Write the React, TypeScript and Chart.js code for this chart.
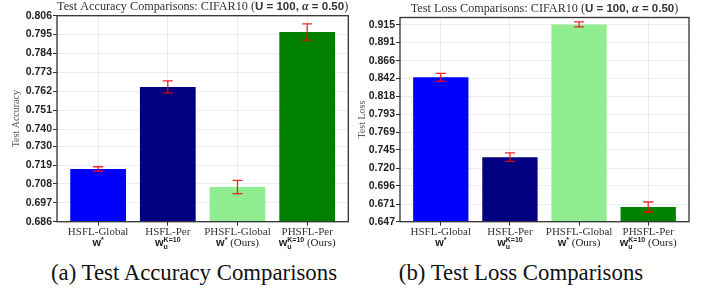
import React, { useEffect, useRef } from "react";
import { Chart, registerables } from "chart.js";

Chart.register(...registerables);

const categories = ["HSFL-Global", "HSFL-Per", "PHSFL-Global", "PHSFL-Per"];
const barColors = ["#0000ff", "#000080", "#90ee90", "#008000"];

const accValues = [0.7167, 0.7645, 0.7062, 0.7965];
const accErrors = [0.0013, 0.0035, 0.0039, 0.0047];
const accTicks = ["0.686", "0.697", "0.708", "0.719", "0.730", "0.740", "0.751", "0.762", "0.773", "0.784", "0.795", "0.806"];

const lossValues = [0.8436, 0.7349, 0.9156, 0.667];
const lossErrors = [0.0054, 0.0059, 0.0034, 0.0068];
const lossTicks = ["0.647", "0.671", "0.696", "0.720", "0.745", "0.769", "0.793", "0.818", "0.842", "0.866", "0.891", "0.915"];

// math notation line under each category: base, superscript, subscript, suffix
const notationBase = ["w", "w", "w", "w"];
const notationSup = ["*", "K=10", "*", "K=10"];
const notationSub = ["", "u", "", "u"];
const notationSuffix = ["", "", " (Ours)", " (Ours)"];

const SERIF = "'Liberation Serif', 'Times New Roman', serif";
const SANS = "'Liberation Sans', Arial, sans-serif";

type Part = { text: string; font: string; dy?: number; noAdvance?: boolean };

function drawParts(ctx: CanvasRenderingContext2D, parts: Part[], cx: number, cy: number, color: string) {
  let total = 0;
  parts.forEach((p) => {
    ctx.font = p.font;
    if (!p.noAdvance) total += ctx.measureText(p.text).width;
  });
  let x = cx - total / 2;
  ctx.save();
  ctx.fillStyle = color;
  ctx.textBaseline = "middle";
  ctx.textAlign = "left";
  parts.forEach((p) => {
    ctx.font = p.font;
    ctx.fillText(p.text, x, cy + (p.dy || 0));
    if (!p.noAdvance) x += ctx.measureText(p.text).width;
  });
  ctx.restore();
}

function makeChart(
  canvas: HTMLCanvasElement,
  cfg: {
    values: number[];
    errors: number[];
    ticks: string[];
    yMin: number;
    yMax: number;
    yLabel: string;
    titleMain: string;
    axisWidth: number;
    padTop: number;
    padRight: number;
    xAxisHeight: number;
    yTitlePad: number;
  }
) {
  const framePlugin = {
    id: "frame",
    afterDraw(chart: any) {
      const { ctx, chartArea: a } = chart;
      ctx.save();
      ctx.strokeStyle = "#333";
      ctx.lineWidth = 1.3;
      ctx.strokeRect(a.left, a.top, a.right - a.left, a.bottom - a.top);
      ctx.restore();
    },
  };
  const errorPlugin = {
    id: "errbars",
    afterDatasetsDraw(chart: any) {
      const { ctx } = chart;
      const xs = chart.scales.x;
      const ys = chart.scales.y;
      ctx.save();
      ctx.strokeStyle = "rgba(255,0,0,0.85)";
      ctx.lineWidth = 1.3;
      cfg.values.forEach((v, i) => {
        const x = xs.getPixelForValue(i);
        const y1 = ys.getPixelForValue(v + cfg.errors[i]);
        const y2 = ys.getPixelForValue(v - cfg.errors[i]);
        ctx.beginPath();
        ctx.moveTo(x, y1);
        ctx.lineTo(x, y2);
        ctx.moveTo(x - 5, y1);
        ctx.lineTo(x + 5, y1);
        ctx.moveTo(x - 5, y2);
        ctx.lineTo(x + 5, y2);
        ctx.stroke();
      });
      ctx.restore();
    },
  };
  const textPlugin = {
    id: "texts",
    afterDraw(chart: any) {
      const { ctx, chartArea: a } = chart;
      const cx = (a.left + a.right) / 2;
      drawParts(
        ctx,
        [
          { text: cfg.titleMain + " (", font: `12.2px ${SERIF}` },
          { text: "U = 100, ", font: `bold 11.5px ${SANS}` },
          { text: "α", font: `italic bold 12px ${SERIF}` },
          { text: " = 0.50", font: `bold 11.5px ${SANS}` },
          { text: ")", font: `12.2px ${SERIF}` },
        ],
        cx,
        a.top - 8.5,
        "#333"
      );
      const xs = chart.scales.x;
      categories.forEach((_, i) => {
        const x = xs.getPixelForValue(i);
        const parts: Part[] = [{ text: notationBase[i], font: `bold 11px ${SANS}` }];
        ctx.font = `bold 7px ${SANS}`;
        const supW = Math.max(ctx.measureText(notationSup[i]).width, ctx.measureText(notationSub[i]).width);
        const supOnlyW = ctx.measureText(notationSup[i]).width;
        if (notationSub[i]) {
          parts.push({ text: notationSub[i], font: `bold 7px ${SANS}`, dy: 3.5, noAdvance: true });
        }
        parts.push({ text: notationSup[i], font: `bold 7px ${SANS}`, dy: -3.5 });
        if (supW - supOnlyW > 0) parts.push({ text: " ", font: `${supW - supOnlyW}px ${SANS}` });
        if (notationSuffix[i]) parts.push({ text: notationSuffix[i], font: `11px ${SERIF}` });
        drawParts(ctx, parts, x, a.bottom + 21.5, "#222");
      });
    },
  };

  const tickVals = cfg.ticks.map((t) => parseFloat(t));

  return new Chart(canvas, {
    type: "bar",
    data: {
      datasets: [
        {
          data: cfg.values.map((v, i) => ({ x: i, y: v })) as any,
          backgroundColor: barColors,
          borderWidth: 0,
          barPercentage: 0.8,
          categoryPercentage: 1,
        },
      ],
    },
    options: {
      animation: false,
      responsive: false,
      devicePixelRatio: 1,
      layout: { padding: { top: cfg.padTop, right: cfg.padRight, left: 0, bottom: 0 } },
      plugins: { legend: { display: false }, tooltip: { enabled: false }, title: { display: false } },
      scales: {
        x: {
          type: "linear",
          offset: false,
          min: -0.59,
          max: 3.59,
          afterBuildTicks: (s: any) => {
            s.ticks = categories.map((_, i) => ({ value: i }));
          },
          afterFit: (s: any) => {
            s.height = cfg.xAxisHeight;
          },
          ticks: {
            autoSkip: false,
            maxRotation: 0,
            padding: 0,
            color: "#333",
            font: { family: SERIF, size: 11 },
            callback: (v: any) => categories[Math.round(Number(v))] ?? "",
          },
          grid: { offset: false, color: "rgba(0,0,0,0.07)", tickColor: "#333", tickLength: 4, lineWidth: 1 },
          border: { display: false },
        },
        y: {
          type: "linear",
          min: cfg.yMin,
          max: cfg.yMax,
          afterBuildTicks: (s: any) => {
            s.ticks = tickVals.map((v) => ({ value: v }));
          },
          afterFit: (s: any) => {
            s.width = cfg.axisWidth;
          },
          ticks: {
            autoSkip: false,
            padding: 1,
            color: "#222",
            font: { family: SANS, size: 10.5, weight: "bold" },
            callback: (v: any) => {
              const idx = tickVals.indexOf(Number(v));
              return idx >= 0 ? cfg.ticks[idx] : "";
            },
          },
          grid: { color: "rgba(0,0,0,0.07)", tickColor: "#333", tickLength: 4, lineWidth: 1 },
          border: { display: false },
          title: {
            display: true,
            text: cfg.yLabel,
            color: "#555",
            font: { family: SERIF, size: 10 },
            padding: { top: cfg.yTitlePad, bottom: 0 },
          },
        },
      },
    },
    plugins: [framePlugin, errorPlugin, textPlugin],
  } as any);
}

export default function App() {
  const leftRef = useRef<HTMLCanvasElement>(null);
  const rightRef = useRef<HTMLCanvasElement>(null);

  useEffect(() => {
    const c1 = makeChart(leftRef.current!, {
      values: accValues,
      errors: accErrors,
      ticks: accTicks,
      yMin: 0.686,
      yMax: 0.806,
      yLabel: "Test Accuracy",
      titleMain: "Test Accuracy Comparisons: CIFAR10",
      axisWidth: 57,
      padTop: 15.7,
      padRight: 3.7,
      xAxisHeight: 28.3,
      yTitlePad: 10,
    });
    const c2 = makeChart(rightRef.current!, {
      values: lossValues,
      errors: lossErrors,
      ticks: lossTicks,
      yMin: 0.647,
      yMax: 0.925,
      yLabel: "Test Loss",
      titleMain: "Test Loss Comparisons: CIFAR10",
      axisWidth: 48,
      padTop: 17.5,
      padRight: 16,
      xAxisHeight: 28.3,
      yTitlePad: 4,
    });
    return () => {
      c1.destroy();
      c2.destroy();
    };
  }, []);

  const captionStyle: React.CSSProperties = {
    position: "absolute",
    top: 260,
    height: 26,
    lineHeight: "26px",
    fontFamily: SERIF,
    fontSize: 22.8,
    color: "#111",
    textAlign: "center",
    whiteSpace: "nowrap",
  };

  return (
    <div style={{ position: "absolute", left: 0, top: 0, width: 705, height: 297, background: "#fff", overflow: "hidden" }}>
      <canvas ref={leftRef} width={352} height={250} style={{ position: "absolute", left: 0, top: 0, width: 352, height: 250 }} />
      <canvas ref={rightRef} width={353} height={250} style={{ position: "absolute", left: 352, top: 0, width: 353, height: 250 }} />
      <div style={{ ...captionStyle, left: 0, width: 388 }}>(a) Test Accuracy Comparisons</div>
      <div style={{ ...captionStyle, left: 341, width: 360 }}>(b) Test Loss Comparisons</div>
    </div>
  );
}
